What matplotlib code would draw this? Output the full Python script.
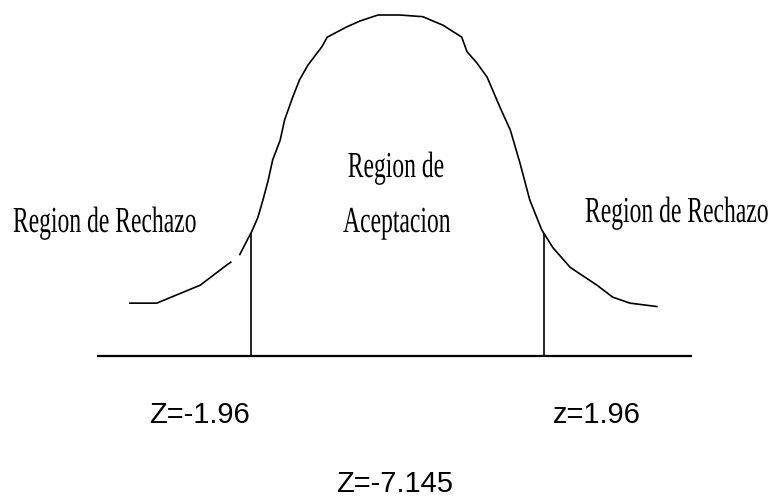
import numpy as np
import matplotlib
matplotlib.use('Agg')
import matplotlib.pyplot as plt
from matplotlib import patheffects
from matplotlib.transforms import Affine2D

# curve (z units, density-like height)
tail_z = [-3.58, -3.22, -3.00, -2.64, -2.28, -2.23]
tail_y = [0.062, 0.062, 0.070, 0.083, 0.107, 0.110]

body_z = [-2.11, -2.01, -1.95, -1.87, -1.80, -1.73, -1.67, -1.57, -1.51, -1.40,
          -1.31, -1.20, -1.01, -0.94, -0.68, -0.50, -0.26, 0.03, 0.34, 0.61,
          0.86, 0.93, 1.06, 1.20, 1.37, 1.51, 1.64, 1.77, 1.93, 2.08,
          2.31, 2.67, 2.88, 3.11, 3.47]
body_y = [0.119, 0.136, 0.146, 0.162, 0.183, 0.206, 0.230, 0.253, 0.277, 0.304,
          0.324, 0.341, 0.363, 0.374, 0.386, 0.393, 0.400, 0.400, 0.398, 0.388,
          0.374, 0.357, 0.344, 0.327, 0.292, 0.265, 0.226, 0.183, 0.148, 0.127,
          0.104, 0.083, 0.069, 0.062, 0.058]

z_crit = [-1.96, 1.96]
axis_z = [-4.02, 3.94]

crit_labels = ['Z=-1.96', 'z=1.96']
stat_label = 'Z=-7.145'
reject_label = 'Region de Rechazo'
accept_label = ['Region de', 'Aceptacion']


class Stretch(patheffects.AbstractPathEffect):
    # tall narrow serif look of the original lettering
    def __init__(self, sx=1.0, sy=1.0):
        super().__init__()
        self.sx = sx
        self.sy = sy

    def draw_path(self, renderer, gc, tpath, affine, rgbFace=None):
        renderer.draw_path(gc, tpath, Affine2D().scale(self.sx, self.sy) + affine, rgbFace)


fig = plt.figure(figsize=(7.75, 4.98), dpi=100)
ax = fig.add_axes([0, 0, 1, 1])
ax.set_xlim(-5.318, 5.051)
ax.set_ylim(-0.1666, 0.4176)
ax.axis('off')

ax.plot(tail_z, tail_y, color='black', linewidth=1.2)
ax.plot(body_z, body_y, color='black', linewidth=1.2)

all_z = tail_z + body_z
all_y = tail_y + body_y
heights = np.interp(z_crit, all_z, all_y)
ax.vlines(z_crit, 0, heights, color='black', linewidth=1.2)
ax.hlines(0, axis_z[0], axis_z[1], color='black', linewidth=1.6)

serif = dict(family='Liberation Serif', fontsize=17, color='black',
             va='baseline', path_effects=[Stretch(1.0, 1.55)])
ax.text(-5.145, 0.1455, reject_label, ha='left', **serif)
ax.text(2.509, 0.1572, reject_label, ha='left', **serif)
ax.text(-0.02, 0.210, accept_label[0], ha='center', **serif)
ax.text(-0.01, 0.1455, accept_label[1], ha='center', **serif)

sans = dict(family='Liberation Sans', fontsize=21, color='black', va='baseline')
ax.text(-1.973, -0.0786, crit_labels[0], ha='right', **sans)
ax.text(2.08, -0.0786, crit_labels[1], ha='left', **sans)
ax.text(-0.033, -0.1595, stat_label, ha='center', **sans)

fig.savefig('out.png', dpi=100)
